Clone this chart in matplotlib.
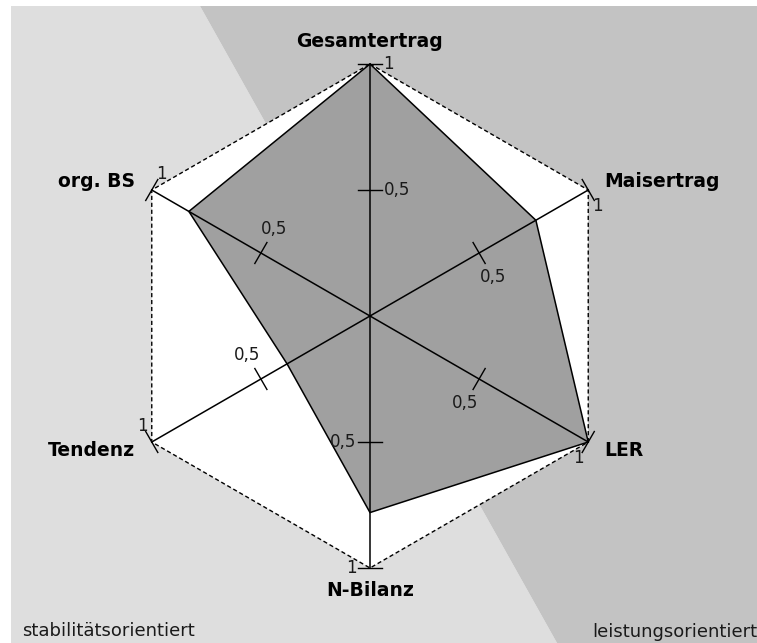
import numpy as np
import matplotlib
matplotlib.use("Agg")
import matplotlib.pyplot as plt
from matplotlib.patches import Polygon

# criteria of the radar chart, clockwise from the top
criteria = ["Gesamtertrag", "Maisertrag", "LER", "N-Bilanz", "Tendenz", "org. BS"]
values = [1.0, 0.76, 1.0, 0.78, 0.38, 0.83]
tick_values = [0.5, 1.0]
tick_labels = ["0,5", "1"]
region_labels = ["stabilitätsorientiert", "leistungsorientiert"]


def main():
    W, H = 757, 643
    cx, cy, R = 370, 316, 252  # centre / radius in pixels

    fig = plt.figure(figsize=(W / 100, H / 100), dpi=100)
    ax = fig.add_axes([0, 0, 1, 1])
    ax.set_xlim(-cx / R, (W - cx) / R)
    ax.set_ylim(-(H - cy) / R, cy / R)
    ax.axis("off")

    # background: stability (left, light) vs performance (right, darker)
    x0, xt, xb, yt = 11 / W, 200 / W, 557 / W, 1 - 6 / H
    ax.add_patch(Polygon([(x0, 0), (x0, yt), (xt, yt), (xb, 0)], closed=True,
                         transform=ax.transAxes, fc="#dedede", ec="none", zorder=0))
    ax.add_patch(Polygon([(xt, yt), (1, yt), (1, 0), (xb, 0)], closed=True,
                         transform=ax.transAxes, fc="#c3c3c3", ec="none", zorder=0))

    n = len(criteria)
    theta = np.deg2rad(90 - 60 * np.arange(n))
    dx, dy = np.cos(theta), np.sin(theta)
    px, py = np.cos(theta - np.pi / 2), np.sin(theta - np.pi / 2)

    # white hexagon with dashed frame
    hexa = np.column_stack([dx, dy])
    ax.add_patch(Polygon(hexa, closed=True, fc="white", ec="none", zorder=1))
    ax.add_patch(Polygon(hexa, closed=True, fill=False, ec="black", lw=1.0,
                         ls=(0, (3, 2)), zorder=4))

    # data polygon
    v = np.array(values)
    ax.add_patch(Polygon(np.column_stack([v * dx, v * dy]), closed=True,
                         fc="#a0a0a0", ec="black", lw=1.1, zorder=2))

    # axes, ticks and tick labels
    h = 0.048
    for i in range(n):
        ax.plot([0, dx[i]], [0, dy[i]], color="black", lw=1.1, zorder=3)
        for t, lab in zip(tick_values, tick_labels):
            ax.plot([t * dx[i] - h * px[i], t * dx[i] + h * px[i]],
                    [t * dy[i] - h * py[i], t * dy[i] + h * py[i]],
                    color="black", lw=1.0, zorder=3)
            off = 0.108 if lab != "1" else 0.075
            ax.text(t * dx[i] + off * px[i], t * dy[i] + off * py[i], lab,
                    ha="center", va="center", fontsize=12, color="#1a1a1a", zorder=5)

    # criteria names
    for i, name in enumerate(criteria):
        if abs(dx[i]) < 0.01:
            ax.text(0, np.sign(dy[i]) * 1.09, name, ha="center", va="center",
                    fontsize=13.5, fontweight="bold", zorder=5)
        else:
            ax.text(dx[i] + np.sign(dx[i]) * 0.065, dy[i] + np.sign(dy[i]) * 0.035, name,
                    ha="left" if dx[i] > 0 else "right", va="center",
                    fontsize=13.5, fontweight="bold", zorder=5)

    ax.text(22 / W, 1 - 631 / H, region_labels[0], transform=ax.transAxes,
            ha="left", va="center", fontsize=13, color="#1a1a1a")
    ax.text(1.0, 1 - 632 / H, region_labels[1], transform=ax.transAxes,
            ha="right", va="center", fontsize=13, color="#1a1a1a")

    fig.savefig("out.png", dpi=100)
    plt.close(fig)


if __name__ == "__main__":
    main()
